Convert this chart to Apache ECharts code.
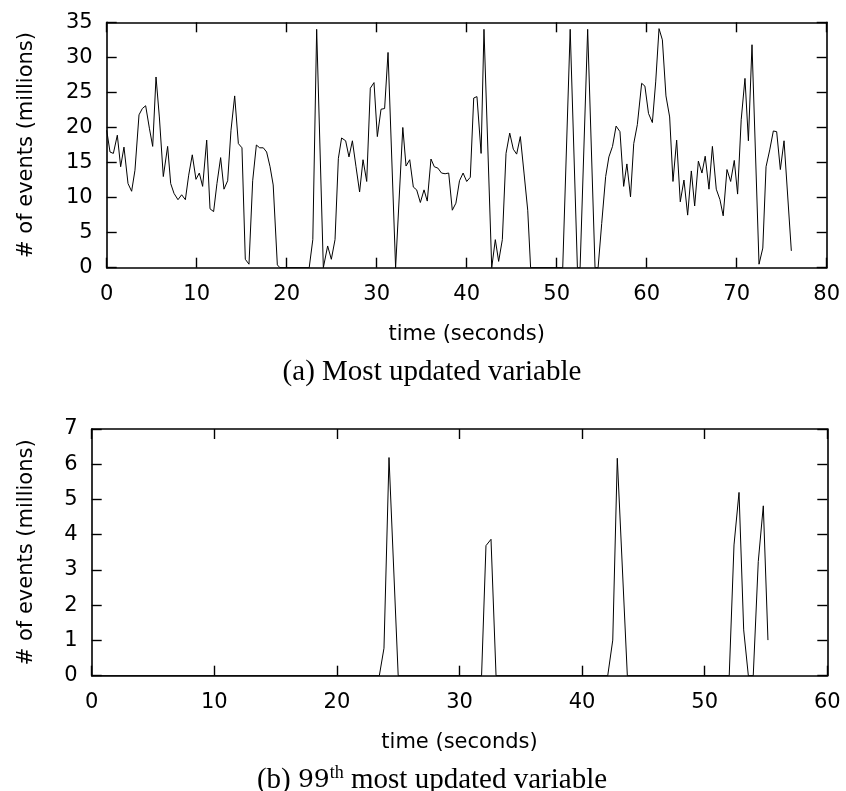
<!DOCTYPE html>
<html>
<head>
<meta charset="utf-8">
<script src="https://cdn.jsdelivr.net/npm/echarts@6/dist/echarts.min.js"></script>
<style>
html,body{margin:0;padding:0;background:#fff;}
#chart{width:846px;height:791px;}
</style>
</head>
<body>
<div id="chart"></div>
<script>
// (a) Most updated variable: time (s) and events (millions)
const timeA = [0.0,0.37,0.74,1.18,1.55,1.92,2.37,2.77,3.14,3.59,3.96,4.33,4.74,5.11,5.48,5.85,6.29,6.77,7.11,7.48,7.92,8.33,8.74,9.11,9.51,9.92,10.29,10.66,11.11,11.48,11.88,12.25,12.66,13.03,13.44,13.81,14.22,14.63,15.03,15.40,15.81,16.22,16.63,17.0,17.4,17.77,18.15,18.5,18.96,19.25,22.5,22.9,23.33,24.07,24.55,24.96,25.37,25.74,26.1,26.55,26.92,27.3,27.7,28.1,28.48,28.89,29.29,29.7,30.07,30.48,30.88,31.26,32.1,32.9,33.26,33.67,34.07,34.44,34.85,35.26,35.62,36.03,36.4,36.8,37.2,37.6,38.0,38.4,38.8,39.2,39.6,40.0,40.4,40.78,41.14,41.6,41.92,42.78,43.18,43.55,43.96,44.37,44.78,45.18,45.55,45.96,46.37,46.78,47.1,50.67,51.5,52.3,52.6,53.44,54.26,54.6,55.0,55.44,55.8,56.2,56.6,57.03,57.44,57.8,58.2,58.56,58.96,59.44,59.8,60.2,60.63,61.0,61.37,61.74,62.14,62.55,62.92,63.33,63.73,64.14,64.55,64.96,65.33,65.74,66.14,66.5,66.92,67.3,67.73,68.14,68.5,68.92,69.33,69.73,70.1,70.5,70.92,71.3,71.7,72.48,72.9,73.26,73.67,74.07,74.44,74.85,75.26,76.07];
const eventsA = [19.6,16.5,16.3,18.9,14.4,17.2,12.0,10.9,13.9,21.8,22.7,23.1,19.9,17.3,27.2,21.5,13.0,17.3,12.0,10.6,9.7,10.4,9.7,13.2,16.1,12.6,13.5,11.6,18.2,8.4,8.0,12.0,15.7,11.2,12.4,19.6,24.5,17.7,17.1,1.2,0.5,12.4,17.5,17.1,17.1,16.5,14.4,11.8,0.4,0,0,4.0,34.0,0,3.1,1.2,4.0,15.6,18.5,18.1,15.8,18.1,14.4,10.8,15.4,12.3,25.6,26.4,18.7,22.6,22.7,30.7,0,20.0,14.5,15.4,11.5,11.1,9.3,11.1,9.5,15.5,14.4,14.2,13.5,13.4,13.5,8.2,9.2,12.4,13.5,12.3,12.9,24.2,24.4,16.3,34.0,0,4.0,0.9,4.0,16.3,19.2,16.9,16.2,18.7,13.5,8.2,0,0,34.0,0,0,34.0,0,0,6.3,13.0,15.8,17.3,20.2,19.4,11.6,14.8,10.1,17.7,20.4,26.3,25.9,22.0,20.7,26.5,34.1,32.5,24.5,21.5,12.3,18.2,9.4,12.5,7.5,13.8,8.8,15.2,13.5,15.9,11.2,17.3,11.2,9.7,7.4,14.0,12.3,15.3,10.5,21.1,27.0,18.1,31.8,0.5,2.8,14.4,16.8,19.5,19.4,14.0,18.1,2.4];

// (b) 99th most updated variable
const timeB = [0,23.46,23.84,24.25,25.0,31.8,32.16,32.57,32.98,42.09,42.5,42.87,43.69,52.0,52.39,52.8,53.18,53.56,53.96,54.37,54.78,55.16];
const eventsB = [0,0,0.78,6.19,0,0,3.69,3.87,0,0,1.01,6.17,0,0,3.71,5.2,1.3,0,0,3.24,4.82,1.01];

const xTicksA = {min:0, max:80, interval:10};
const yTicksA = {min:0, max:35, interval:5};
const xTicksB = {min:0, max:60, interval:10};
const yTicksB = {min:0, max:7, interval:1};

const xName = 'time (seconds)';
const yName = '# of events (millions)';
const captionA = '(a) Most updated variable';

const SANS = 'DejaVu Sans';
const FS = 21;

function mkX(gi, t, pos, labels){
  return {
    type:'value', gridIndex:gi, position:pos, min:t.min, max:t.max, interval:t.interval,
    axisLine:{show:true, onZero:false, lineStyle:{color:'#000', width:1.6}},
    axisTick:{show:true, inside:true, length:10, lineStyle:{color:'#000', width:1.4}},
    axisLabel:{show:labels, color:'#000', fontFamily:SANS, fontSize:FS, margin:16},
    splitLine:{show:false},
    name: labels ? xName : '', nameLocation:'middle', nameGap:56,
    nameTextStyle:{color:'#000', fontFamily:SANS, fontSize:FS}
  };
}
function mkY(gi, t, pos, labels, gap){
  return {
    type:'value', gridIndex:gi, position:pos, min:t.min, max:t.max, interval:t.interval,
    axisLine:{show:true, onZero:false, lineStyle:{color:'#000', width:1.6}},
    axisTick:{show:true, inside:true, length:10, lineStyle:{color:'#000', width:1.4}},
    axisLabel:{show:labels, color:'#000', fontFamily:SANS, fontSize:FS, margin:14},
    splitLine:{show:false},
    name: labels ? yName : '', nameLocation:'middle', nameGap:gap,
    nameTextStyle:{color:'#000', fontFamily:SANS, fontSize:FS}
  };
}

const chart = echarts.init(document.getElementById('chart'), null, {renderer:'canvas'});
chart.setOption({
  animation:false,
  backgroundColor:'#fff',
  grid:[
    {left:106.7, top:22.3, width:720, height:245.4},
    {left:91.7, top:429, width:735.6, height:246.7}
  ],
  xAxis:[mkX(0,xTicksA,'bottom',true), mkX(0,xTicksA,'top',false), mkX(1,xTicksB,'bottom',true), mkX(1,xTicksB,'top',false)],
  yAxis:[mkY(0,yTicksA,'left',true,70), mkY(0,yTicksA,'right',false,0), mkY(1,yTicksB,'left',true,55), mkY(1,yTicksB,'right',false,0)],
  series:[
    {type:'line', xAxisIndex:0, yAxisIndex:0, data: timeA.map((t,i)=>[t, eventsA[i]]),
     showSymbol:false, symbol:'none', lineStyle:{color:'#000', width:1}, clip:true},
    {type:'line', xAxisIndex:2, yAxisIndex:2, data: timeB.map((t,i)=>[t, eventsB[i]]),
     showSymbol:false, symbol:'none', lineStyle:{color:'#000', width:1}, clip:true}
  ],
  graphic:[
    {type:'text', x:432, y:372, style:{text:captionA, font:'29px "Liberation Serif"', fill:'#000', align:'center', verticalAlign:'middle'}},
    {type:'text', x:432, y:780, style:{
      text:'(b) {n|99}{sup|th} most updated variable',
      font:'29px "Liberation Serif"', fill:'#000', align:'center', verticalAlign:'middle',
      rich:{
        n:{fontFamily:'DejaVu Serif', fontSize:25, fill:'#000'},
        sup:{fontFamily:'Liberation Serif', fontSize:18, fill:'#000', padding:[0,0,14,0]}
      }
    }}
  ]
});
</script>
</body>
</html>
